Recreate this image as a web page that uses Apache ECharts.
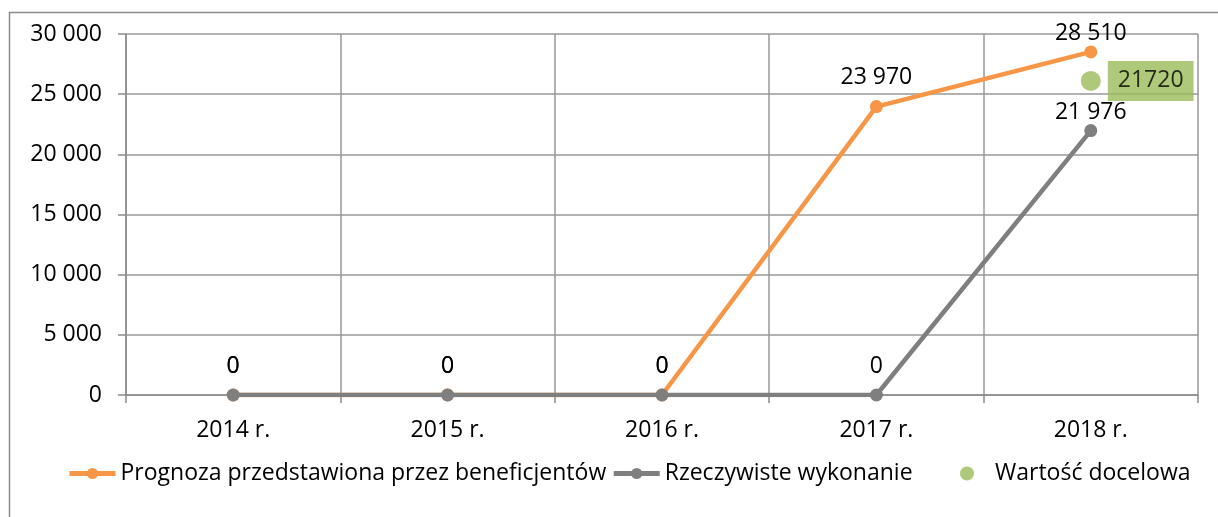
<!DOCTYPE html>
<html>
<head>
<meta charset="utf-8">
<script src="https://cdn.jsdelivr.net/npm/echarts@6/dist/echarts.min.js"></script>
<style>html,body{margin:0;padding:0;background:#fff}#c{width:1218px;height:517px}</style>
</head>
<body>
<div id="c"></div>
<script>
const categories = ['2014 r.', '2015 r.', '2016 r.', '2017 r.', '2018 r.'];
const prognoza = [0, 0, 0, 23970, 28510];
const wykonanie = [0, 0, 0, 0, 21976];
const docelowaPosition = [null, null, null, null, 26100];
const docelowaLabel = '21720';
const seriesNames = ['Prognoza przedstawiona przez beneficjentów', 'Rzeczywiste wykonanie', 'Wartość docelowa'];

const FONT = 'Open Sans';
const FS = 23;
const fmt = v => String(v).replace(/\B(?=(\d{3})+(?!\d))/g, ' ');
// last-point labels sit closer to their markers in the reference
const withLabels = arr => arr.map((v, i) => i === arr.length - 1 ? {value: v, label: {distance: 0}} : v);

const legendBase = {
  bottom: 27,
  itemWidth: 46,
  itemHeight: 14,
  itemGap: 5,
  lineStyle: {width: 5},
  textStyle: {fontFamily: FONT, fontSize: FS, color: '#000'}
};

const chart = echarts.init(document.getElementById('c'), null, {renderer: 'canvas'});
chart.setOption({
  animation: false,
  textStyle: {fontFamily: FONT},
  graphic: [{
    type: 'polyline',
    shape: {points: [[9.5, 517], [9.5, 12.5], [1218, 12.5]]},
    style: {stroke: '#8c8c8c', lineWidth: 1.5, fill: null},
    silent: true
  }],
  grid: {left: 126, right: 20, top: 34, bottom: 122, containLabel: false},
  legend: [
    Object.assign({}, legendBase, {left: 62, data: seriesNames.slice(0, 2)}),
    Object.assign({}, legendBase, {left: 955, data: seriesNames.slice(2)})
  ],
  xAxis: {
    type: 'category',
    data: categories,
    boundaryGap: true,
    axisLine: {lineStyle: {color: '#8c8c8c', width: 1.5}},
    axisTick: {show: true, length: 8, lineStyle: {color: '#8c8c8c', width: 1.5}},
    axisLabel: {fontFamily: FONT, fontSize: FS, color: '#000', margin: 24},
    splitLine: {show: true, lineStyle: {color: '#999', width: 1.5}}
  },
  yAxis: {
    type: 'value',
    min: 0, max: 30000, interval: 5000,
    axisLine: {show: true, lineStyle: {color: '#8c8c8c', width: 1.5}},
    axisTick: {show: true, length: 8, lineStyle: {color: '#8c8c8c', width: 1.5}},
    axisLabel: {fontFamily: FONT, fontSize: FS, color: '#000', margin: 24, formatter: fmt},
    splitLine: {show: true, lineStyle: {color: '#999', width: 1.5}}
  },
  series: [
    {
      name: seriesNames[0], type: 'line', data: withLabels(prognoza), z: 2,
      symbol: 'circle', symbolSize: 13,
      lineStyle: {color: '#F79646', width: 4.5},
      itemStyle: {color: '#F79646'},
      label: {show: true, position: 'top', distance: 11, fontFamily: FONT, fontSize: FS, color: '#000', formatter: p => fmt(p.value)}
    },
    {
      name: seriesNames[1], type: 'line', data: withLabels(wykonanie), z: 3,
      symbol: 'circle', symbolSize: 13,
      lineStyle: {color: '#7F7F7F', width: 4.5},
      itemStyle: {color: '#7F7F7F'},
      label: {show: true, position: 'top', distance: 11, fontFamily: FONT, fontSize: FS, color: '#000', formatter: p => fmt(p.value)}
    },
    {
      name: seriesNames[2], type: 'scatter', data: docelowaPosition, z: 4,
      symbol: 'circle', symbolSize: 20,
      itemStyle: {color: '#9BBB59'},
      label: {show: true, position: 'right', distance: 7, fontFamily: FONT, fontSize: FS, color: '#000',
        backgroundColor: '#9BBB59', padding: [9, 10, 8, 10], formatter: () => docelowaLabel}
    }
  ]
});
</script>
</body>
</html>
